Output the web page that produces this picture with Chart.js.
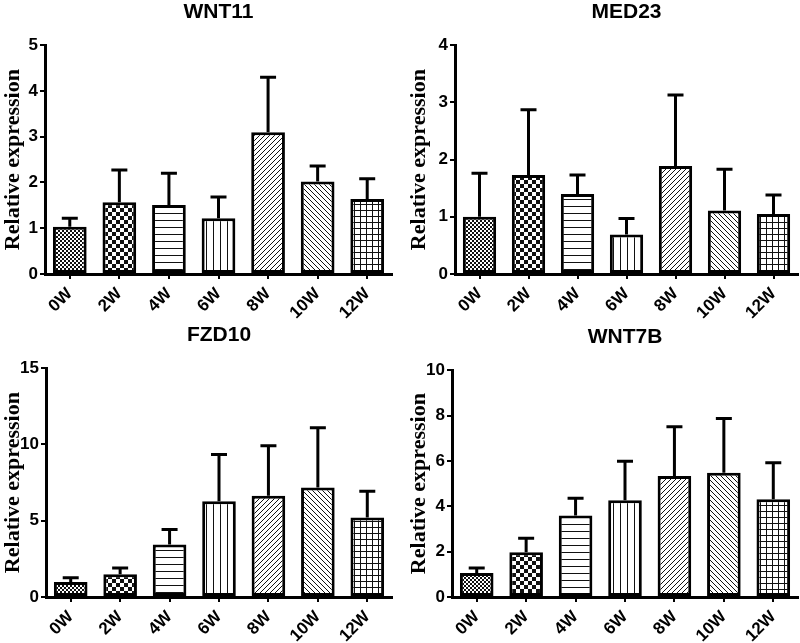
<!DOCTYPE html>
<html>
<head>
<meta charset="utf-8">
<script src="https://cdn.jsdelivr.net/npm/chart.js@4"></script>
<style>
  body { margin: 0; background: #fff; }
  .panel { position: absolute; width: 400px; height: 320px; }
</style>
</head>
<body>
<div class="panel" style="left:0;top:0"><canvas id="wnt11" width="400" height="320"></canvas></div>
<div class="panel" style="left:400px;top:0"><canvas id="med23" width="400" height="320"></canvas></div>
<div class="panel" style="left:0;top:323px"><canvas id="fzd10" width="400" height="320"></canvas></div>
<div class="panel" style="left:400px;top:325px"><canvas id="wnt7b" width="400" height="318"></canvas></div>
<script>
var weeks = ['0W', '2W', '4W', '6W', '8W', '10W', '12W'];

var wnt11Mean = [1.03, 1.57, 1.51, 1.22, 3.10, 2.02, 1.64];
var wnt11Sd   = [0.19, 0.70, 0.69, 0.46, 1.20, 0.34, 0.44];

var med23Mean = [1.00, 1.73, 1.40, 0.69, 1.89, 1.11, 1.05];
var med23Sd   = [0.76, 1.14, 0.33, 0.28, 1.24, 0.72, 0.33];

var fzd10Mean = [0.99, 1.49, 3.44, 6.28, 6.63, 7.18, 5.21];
var fzd10Sd   = [0.28, 0.41, 0.98, 3.07, 3.29, 3.92, 1.73];

var wnt7bMean = [1.06, 1.97, 3.59, 4.27, 5.34, 5.48, 4.31];
var wnt7bSd   = [0.22, 0.62, 0.76, 1.71, 2.17, 2.39, 1.61];

var fontSans = "'Liberation Sans', Arial, sans-serif";
var fontSerif = "'Liberation Serif', 'Times New Roman', serif";

// small tiles used as bar fills
function tile(size, draw) {
    var c = document.createElement('canvas');
    c.width = size; c.height = size;
    var t = c.getContext('2d');
    t.fillStyle = '#fff';
    t.fillRect(0, 0, size, size);
    t.fillStyle = '#111';
    draw(t, size);
    return t.createPattern(c, 'repeat');
}

function makePatterns() {
    return [
        tile(4, function (t) { t.fillRect(0, 0, 2, 2); t.fillRect(2, 2, 2, 2); }),
        tile(8, function (t) { t.fillRect(0, 0, 4, 4); t.fillRect(4, 4, 4, 4); }),
        tile(7, function (t, s) { t.fillRect(0, 3, s, 1); }),
        tile(7, function (t, s) { t.fillRect(3, 0, 1, s); }),
        tile(5, function (t, s) { for (var i = 0; i < s; i++) t.fillRect(i, s - 1 - i, 1, 1); }),
        tile(5, function (t, s) { for (var i = 0; i < s; i++) t.fillRect(i, i, 1, 1); }),
        tile(6, function (t, s) { t.fillRect(0, 0, s, 1); t.fillRect(0, 0, 1, s); })
    ];
}

var errorBars = {
    id: 'errorBars',
    afterDatasetsDraw: function (chart) {
        var ctx = chart.ctx;
        var ds = chart.data.datasets[0];
        var meta = chart.getDatasetMeta(0);
        var y = chart.scales.y;
        ctx.save();
        ctx.strokeStyle = '#000';
        ctx.lineWidth = 3;
        meta.data.forEach(function (bar, i) {
            var top = y.getPixelForValue(ds.data[i] + ds.sd[i]);
            ctx.beginPath();
            ctx.moveTo(bar.x, bar.y);
            ctx.lineTo(bar.x, top);
            ctx.moveTo(bar.x - 8, top);
            ctx.lineTo(bar.x + 8, top);
            ctx.stroke();
        });
        ctx.restore();
    }
};

function makePanel(id, title, means, sds, yMax, yStep, axisWidth, rightPad, titlePad) {
    new Chart(document.getElementById(id), {
        type: 'bar',
        data: {
            labels: weeks,
            datasets: [{
                data: means,
                sd: sds,
                backgroundColor: makePatterns(),
                borderColor: '#000',
                borderWidth: 3,
                borderSkipped: false,
                barPercentage: 0.68,
                categoryPercentage: 1
            }]
        },
        options: {
            responsive: false,
            animation: false,
            layout: { padding: { top: 0, right: rightPad, left: 0, bottom: 0 } },
            plugins: {
                legend: { display: false },
                tooltip: { enabled: false },
                title: {
                    display: true,
                    text: title,
                    fullSize: false,
                    color: '#000',
                    font: { family: fontSans, size: 21, weight: 'bold', lineHeight: 1.2 },
                    padding: { top: 0, bottom: 20 }
                }
            },
            scales: {
                x: {
                    afterFit: function (s) { s.height = 46; },
                    border: { display: true, width: 3, color: '#000' },
                    grid: { offset: false, drawOnChartArea: false, drawTicks: true, tickLength: 5, lineWidth: 2, color: '#000' },
                    ticks: {
                        color: '#000',
                        autoSkip: false,
                        minRotation: 45,
                        maxRotation: 45,
                        padding: 5,
                        font: { family: fontSans, size: 17, weight: 'bold' }
                    }
                },
                y: {
                    min: 0,
                    max: yMax,
                    afterFit: function (s) { s.width = axisWidth; },
                    border: { display: true, width: 3, color: '#000' },
                    grid: { drawOnChartArea: false, drawTicks: true, tickLength: 5, lineWidth: 2, color: '#000' },
                    ticks: {
                        stepSize: yStep,
                        color: '#000',
                        padding: 2,
                        font: { family: fontSans, size: 17, weight: 'bold' }
                    },
                    title: {
                        display: true,
                        text: 'Relative expression',
                        color: '#000',
                        padding: { top: titlePad, bottom: 0 },
                        font: { family: fontSerif, size: 22, weight: 'bold', lineHeight: 1.2 }
                    }
                }
            }
        },
        plugins: [errorBars]
    });
}

makePanel('wnt11', 'WNT11', wnt11Mean, wnt11Sd, 5, 1, 45, 8, 0);
makePanel('med23', 'MED23', med23Mean, med23Sd, 4, 1, 55, 2, 6);
makePanel('fzd10', 'FZD10', fzd10Mean, fzd10Sd, 15, 5, 46, 8, 0);
makePanel('wnt7b', 'WNT7B', wnt7bMean, wnt7bSd, 10, 2, 52, 2, 6);
</script>
</body>
</html>
